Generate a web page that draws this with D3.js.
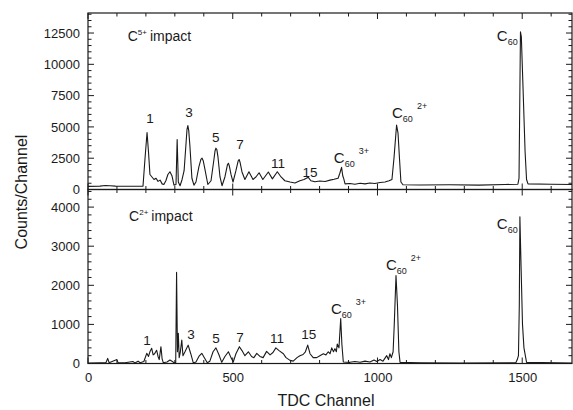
<!DOCTYPE html>
<html><head><meta charset="utf-8">
<script src="https://cdn.jsdelivr.net/npm/d3@7"></script>
<style>
body{margin:0;background:#fff;}
text{font-family:"Liberation Sans",Arial,sans-serif;fill:#1a1a1a;}
</style></head>
<body><svg id="chart" width="573" height="410"></svg>
<script>
// ---- data (TDC channel, counts per channel) ----
const topChannels = [0,41,60,76,95,110,150,180,190,197,204,209,214,221,228,235,242,249,256,262,269,276,283,290,297,304,308,312,318,325,332,339,342,345,348,352,359,366,373,383,390,394,398,404,414,425,435,439,442,445,449,456,463,473,482,485,488,494,501,511,519,522,525,532,542,556,570,580,591,604,623,637,654,667,680,698,715,732,746,761,770,784,801,819,836,850,864,870,876,880,883,888,905,922,940,957,974,991,1009,1026,1040,1050,1057,1066,1071,1076,1081,1088,1147,1250,1350,1440,1485,1489,1492,1494,1497,1503,1510,1515,1520,1600,1672];
const topCounts   = [250,270,320,300,270,260,260,260,270,2500,4550,3000,1200,1000,800,900,650,750,450,400,700,1200,1420,1100,350,400,4000,600,300,800,1500,3800,4800,5100,4700,3500,900,350,600,1800,2400,2500,2300,1600,400,700,2400,3100,3300,3200,2600,1000,300,1000,2000,2100,1900,1200,600,1500,2300,2400,2200,1400,800,1420,800,1000,1340,800,1400,850,1420,1000,700,600,520,700,800,975,700,620,680,640,750,820,900,1300,1770,1100,900,450,480,420,500,450,520,480,560,600,700,800,2500,5150,4500,2500,600,380,360,380,350,400,420,900,8000,12600,12200,8000,3000,800,450,420,400];

const botChannels = [0,41,62,68,73,100,104,128,155,162,173,180,193,203,209,214,220,225,230,237,242,246,252,256,260,273,283,290,297,303,306,309,312,315,319,324,328,335,346,355,364,373,383,393,401,412,421,432,442,452,462,473,485,494,502,511,523,532,542,554,565,573,583,594,605,617,629,639,649,660,675,684,698,709,722,732,743,751,759,767,778,790,801,813,822,830,836,842,848,853,858,861,867,873,877,882,905,922,940,957,974,988,998,1009,1019,1032,1038,1043,1048,1054,1058,1064,1069,1074,1078,1147,1285,1478,1483,1487,1490,1492,1496,1501,1506,1515,1672];
const botCounts   = [10,15,20,130,20,100,15,20,50,15,60,20,50,260,180,300,390,220,250,340,180,100,430,120,20,40,90,60,20,20,2330,300,770,150,300,600,200,300,470,250,10,40,180,260,160,20,60,300,400,230,30,180,300,150,40,250,430,330,200,300,180,150,260,180,150,310,220,280,400,330,250,150,80,60,150,200,230,300,470,250,150,150,200,250,220,300,250,400,300,380,300,500,400,1150,500,40,30,50,30,60,40,90,50,100,60,200,100,250,150,300,1000,2250,1500,300,30,20,10,20,100,200,1500,3750,2500,1000,400,30,10];

// tick values
const xTicksMajor = [0,500,1000,1500];
const topYTicks = [0,2500,5000,7500,10000,12500];
const botYTicks = [0,1000,2000,3000,4000];

// peak labels: text, channel, counts (anchor in data units)
const topLabels = ["1","3","5","7","11","15"];
const topLabelCh = [214,349,441,525,656,767];
const topLabelVal = [5300,5790,3800,3240,1720,1000];
const botLabels = ["1","3","5","7","11","15"];
const botLabelCh = [204,356,442,525,653,763];
const botLabelVal = [470,620,530,550,520,620];
// C60 ion labels: charge, channel, counts
const topIonCharge = ["3+","2+",""];
const topIonCh = [870,1071,1433];
const topIonVal = [2120,5710,11860];
const botIonCharge = ["3+","2+",""];
const botIonCh = [860,1050,1433];
const botIonVal = [1260,2400,3440];
const panelTitles = ["5+","2+"];
const panelTitleCh = [137,142];
const panelTitleVal = [11900,3645];

// ---- layout ----
const svg = d3.select("#chart");
const L = 88, R = 572;
const x = d3.scaleLinear().domain([0,1672]).range([L,R]);
const panels = [
  {ch: topChannels, v: topCounts, y: d3.scaleLinear().domain([0,14100]).range([189.5,13]),
   ticks: topYTicks, minor: 500, labels: topLabels, lch: topLabelCh, lv: topLabelVal,
   ion: topIonCharge, ich: topIonCh, iv: topIonVal, title: 0},
  {ch: botChannels, v: botCounts, y: d3.scaleLinear().domain([0,4450]).range([363.5,189.5]),
   ticks: botYTicks, minor: 200, labels: botLabels, lch: botLabelCh, lv: botLabelVal,
   ion: botIonCharge, ich: botIonCh, iv: botIonVal, title: 1}
];
const ink = "#1a1a1a";

panels.forEach((p, pi) => {
  const y = p.y;
  const [y0, y1] = y.range();
  const g = svg.append("g");
  const clipId = "clip" + pi;
  svg.append("clipPath").attr("id", clipId).append("rect")
    .attr("x", L).attr("y", y1).attr("width", R - L).attr("height", y0 - y1);

  // frame
  g.append("rect").attr("x", L).attr("y", y1).attr("width", R - L).attr("height", y0 - y1)
    .attr("fill", "none").attr("stroke", ink).attr("stroke-width", 1.2);

  // x ticks (inward, top and bottom)
  d3.range(0, 1672, 100).forEach(t => {
    const len = (t % 500 === 0) ? 6 : 3.5;
    g.append("line").attr("x1", x(t)).attr("x2", x(t)).attr("y1", y0).attr("y2", y0 - len).attr("stroke", ink);
    g.append("line").attr("x1", x(t)).attr("x2", x(t)).attr("y1", y1).attr("y2", y1 + len).attr("stroke", ink);
  });
  // y ticks (inward, left and right)
  const yMax = y.domain()[1];
  d3.range(0, yMax, p.minor).forEach(t => {
    const major = p.ticks.includes(t);
    const len = major ? 6 : 3.5;
    g.append("line").attr("x1", L).attr("x2", L + len).attr("y1", y(t)).attr("y2", y(t)).attr("stroke", ink);
    g.append("line").attr("x1", R).attr("x2", R - len).attr("y1", y(t)).attr("y2", y(t)).attr("stroke", ink);
  });
  // y tick labels
  const yAxis = d3.axisLeft(y).tickValues(p.ticks).tickSize(0).tickPadding(8).tickFormat(d3.format("d"));
  const ya = svg.append("g").attr("transform", `translate(${L},0)`).call(yAxis);
  ya.select(".domain").remove();
  ya.selectAll("text").style("font-family", "Liberation Sans, Arial, sans-serif").style("font-size", "13px").attr("fill", ink);

  // spectrum line
  const pts = p.ch.map((c, i) => [c, p.v[i]]);
  const line = d3.line().x(d => x(d[0])).y(d => y(d[1]));
  g.append("path").datum(pts).attr("d", line).attr("fill", "none")
    .attr("stroke", ink).attr("stroke-width", 1.1).attr("stroke-linejoin", "round")
    .attr("clip-path", `url(#${clipId})`);

  // peak number labels
  p.labels.forEach((t, i) => {
    g.append("text").attr("x", x(p.lch[i])).attr("y", y(p.lv[i])).attr("text-anchor", "middle")
      .style("font-size", "13.5px").text(t);
  });
  // C60 ion labels
  p.ion.forEach((q, i) => {
    const t = g.append("text").attr("x", x(p.ich[i])).attr("y", y(p.iv[i])).attr("text-anchor", "start")
      .attr("dx", -6).style("font-size", "15px");
    t.append("tspan").text("C");
    t.append("tspan").attr("dy", 4).style("font-size", "9px").text("60");
    if (q) t.append("tspan").attr("dx", 4).attr("dy", -13).style("font-size", "9px").text(q);
  });
  // panel title
  const tt = g.append("text").attr("x", x(panelTitleCh[p.title])).attr("y", y(panelTitleVal[p.title]))
    .style("font-size", "14px");
  tt.append("tspan").text("C");
  tt.append("tspan").attr("dy", -6).style("font-size", "8px").text(panelTitles[p.title]);
  tt.append("tspan").attr("dy", 6).attr("dx", 3).text("impact");
});

// bottom x axis labels
const xa = svg.append("g").attr("transform", `translate(0,363.5)`)
  .call(d3.axisBottom(x).tickValues(xTicksMajor).tickSize(0).tickPadding(9).tickFormat(d3.format("d")));
xa.select(".domain").remove();
xa.selectAll("text").style("font-family", "Liberation Sans, Arial, sans-serif").style("font-size", "13px").attr("fill", ink);

// axis titles
svg.append("text").attr("x", 326).attr("y", 406).attr("text-anchor", "middle")
  .style("font-size", "16px").text("TDC Channel");
svg.append("text").attr("transform", "translate(27,192) rotate(-90)").attr("text-anchor", "middle")
  .style("font-size", "16px").text("Counts/Channel");
</script></body></html>
